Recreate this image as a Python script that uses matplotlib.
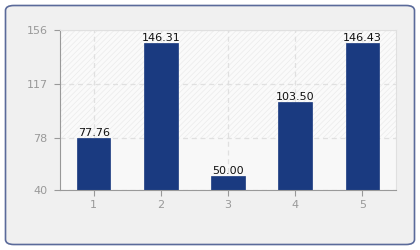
import matplotlib
matplotlib.use("Agg")
import matplotlib.pyplot as plt
from matplotlib.patches import FancyBboxPatch

# data
categories = [1, 2, 3, 4, 5]
values = [77.76, 146.31, 50.00, 103.50, 146.43]
yticks = [40, 78, 117, 156]

plt.rcParams['hatch.color'] = "#ebebeb"
plt.rcParams['hatch.linewidth'] = 0.5

fig = plt.figure(figsize=(4.2, 2.5), dpi=100)
fig.patch.set_facecolor("white")

# rounded outer frame
frame = FancyBboxPatch((5.5 / 420, 5.5 / 250), 409 / 420, 239 / 250,
                       boxstyle="round,pad=0,rounding_size=0.02",
                       transform=fig.transFigure, facecolor="#f0f0f0",
                       edgecolor="#5a6a9a", linewidth=1.2, zorder=-1)
fig.patches.append(frame)

ax = fig.add_axes([60 / 420, 60 / 250, 336 / 420, 160 / 250])
ax.set_zorder(1)
ax.set_facecolor("#fafafa")
ax.set_xlim(0.5, 5.5)
ax.set_ylim(yticks[0], yticks[-1])

# hatched bands
ax.axhspan(yticks[1], yticks[3], facecolor="#fafafa", hatch="//////", edgecolor="#ebebeb", lw=0, zorder=0)
ax.axhspan(yticks[0], yticks[1], facecolor="#f8f8f8", lw=0, zorder=0)

ax.grid(True, color="#e0e0e0", linestyle=(0, (4, 3)), linewidth=0.9, zorder=0.5)
ax.set_axisbelow(True)

bars = ax.bar(categories, values, width=0.5, color="#1a3a80", edgecolor="#1a3a80",
              linewidth=0.5, zorder=2)
for x, v in zip(categories, values):
    ax.text(x, v, f"{v:.2f}", ha="center", va="bottom", fontsize=8,
            color="#111111", zorder=3)

ax.set_xticks(categories)
ax.set_yticks(yticks)
ax.tick_params(axis="both", colors="#999999", labelsize=8, length=4, width=0.8)
ax.tick_params(axis="y", pad=5)
for side in ["left", "bottom"]:
    ax.spines[side].set_color("#999999")
for side in ["top", "right"]:
    ax.spines[side].set_color("#e0e0e0")

fig.savefig("out.png", dpi=100, facecolor=fig.get_facecolor())
